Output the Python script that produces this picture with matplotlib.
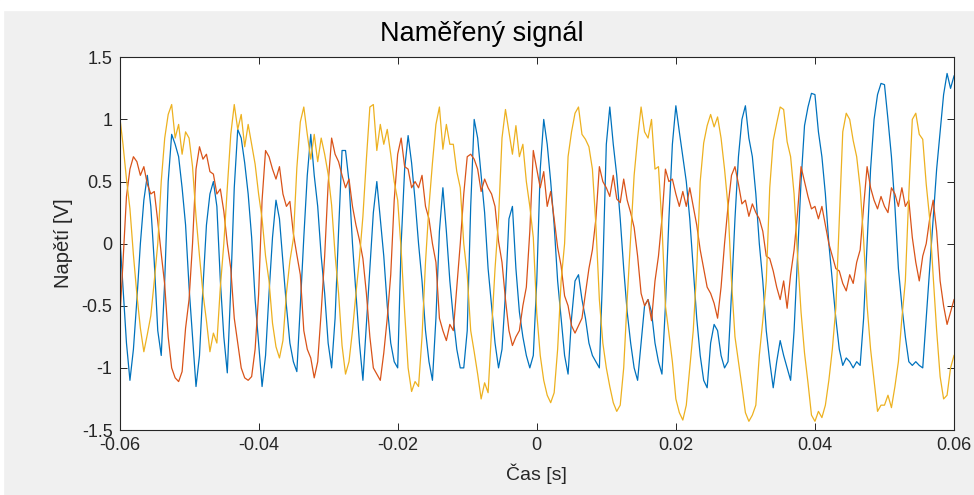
import matplotlib.pyplot as plt
import numpy as np

# casova osa mereni (vzorkovani 0.5 ms)
t_ms = np.arange(-60, 60.5, 0.5)

# kanal 1 (modra)
u1 = [0.10, -0.35, -0.80, -1.10, -0.85, -0.45, 0.00, 0.35, 0.55, 0.30, -0.15, -0.70, -0.90, -0.30, 0.50, 0.88, 0.80, 0.70, 0.45, 0.15,
      -0.35, -0.75, -1.15, -0.90, -0.35, 0.15, 0.40, 0.50, 0.30, -0.30, -0.75, -1.04, -0.35, 0.45, 0.92, 0.85, 0.65, 0.40, 0.05, -0.45,
      -0.80, -1.15, -0.90, -0.40, 0.05, 0.35, 0.20, -0.15, -0.50, -0.80, -0.95, -1.03, -0.50, 0.05, 0.55, 0.88, 0.55, 0.30, -0.10, -0.40,
      -0.80, -1.00, -0.60, 0.10, 0.75, 0.75, 0.50, 0.00, -0.40, -0.80, -1.10, -0.65, -0.20, 0.25, 0.50, 0.20, -0.10, -0.50, -0.80, -0.95,
      -1.00, 0.00, 0.60, 0.87, 0.65, 0.35, 0.00, -0.30, -0.70, -0.95, -1.10, -0.60, 0.10, 0.45, 0.10, -0.30, -0.60, -0.85, -1.00, -1.00,
      -0.70, 0.30, 1.00, 0.85, 0.55, 0.25, -0.20, -0.50, -0.80, -1.00, -0.85, -0.40, 0.20, 0.30, -0.20, -0.55, -0.75, -0.90, -1.00, -0.90,
      -0.30, 0.60, 1.00, 0.80, 0.50, 0.15, -0.30, -0.60, -0.90, -1.05, -0.60, -0.30, -0.25, -0.45, -0.60, -0.80, -0.90, -0.95, -1.00, -0.20,
      0.80, 1.10, 0.80, 0.55, 0.20, -0.20, -0.55, -0.80, -1.00, -1.10, -0.80, -0.50, -0.45, -0.55, -0.80, -0.95, -1.05, -0.50, 0.20, 0.80,
      1.11, 0.90, 0.70, 0.50, 0.20, -0.20, -0.60, -0.90, -1.10, -1.16, -0.80, -0.65, -0.70, -0.90, -1.00, -0.95, -0.40, 0.20, 0.70, 1.00,
      1.11, 0.85, 0.70, 0.40, 0.00, -0.30, -0.70, -0.95, -1.16, -0.95, -0.78, -0.90, -1.00, -1.10, -0.70, -0.10, 0.50, 0.95, 1.10, 1.21,
      1.20, 0.90, 0.70, 0.40, 0.00, -0.30, -0.60, -0.85, -0.98, -0.92, -0.95, -1.00, -0.95, -0.98, -0.60, 0.00, 0.60, 1.00, 1.20, 1.29,
      1.28, 1.00, 0.70, 0.30, -0.20, -0.50, -0.75, -0.95, -0.98, -0.95, -0.98, -1.00, -0.60, -0.20, 0.20, 0.60, 0.90, 1.20, 1.37, 1.25,
      1.35]

# kanal 2 (oranzova)
u2 = [-0.65, -0.15, 0.38, 0.60, 0.70, 0.66, 0.55, 0.62, 0.48, 0.40, 0.42, 0.18, -0.08, -0.33, -0.75, -1.00, -1.08, -1.11, -1.03, -0.68,
      -0.45, 0.00, 0.60, 0.78, 0.68, 0.72, 0.58, 0.56, 0.40, 0.44, 0.26, 0.00, -0.20, -0.60, -0.80, -1.00, -1.08, -1.10, -1.07, -0.85,
      -0.41, 0.35, 0.75, 0.70, 0.60, 0.52, 0.62, 0.40, 0.30, 0.34, 0.08, -0.09, -0.25, -0.70, -0.85, -0.92, -1.08, -0.95, -0.55, -0.10,
      0.48, 0.85, 0.72, 0.66, 0.55, 0.45, 0.52, 0.30, 0.15, 0.03, -0.12, -0.40, -0.75, -1.00, -1.05, -1.10, -0.88, -0.60, -0.25, 0.35,
      0.72, 0.85, 0.62, 0.60, 0.45, 0.50, 0.45, 0.55, 0.30, 0.20, 0.00, -0.15, -0.60, -0.70, -0.78, -0.65, -0.70, -0.35, 0.00, 0.40,
      0.70, 0.72, 0.68, 0.60, 0.42, 0.52, 0.45, 0.40, 0.30, 0.02, -0.15, -0.45, -0.70, -0.82, -0.75, -0.70, -0.50, -0.35, 0.10, 0.75,
      0.60, 0.45, 0.58, 0.30, 0.42, 0.20, -0.03, -0.18, -0.42, -0.50, -0.66, -0.72, -0.66, -0.60, -0.40, -0.20, -0.05, 0.20, 0.62, 0.50,
      0.45, 0.38, 0.55, 0.36, 0.33, 0.52, 0.35, 0.25, 0.13, -0.10, -0.40, -0.50, -0.45, -0.62, -0.30, -0.10, 0.20, 0.60, 0.50, 0.52,
      0.40, 0.30, 0.42, 0.30, 0.45, 0.30, 0.15, -0.05, -0.20, -0.35, -0.40, -0.48, -0.60, -0.35, 0.00, 0.30, 0.55, 0.62, 0.48, 0.32,
      0.35, 0.22, 0.32, 0.25, 0.20, 0.10, -0.10, -0.12, -0.22, -0.35, -0.45, -0.30, -0.52, -0.25, -0.05, 0.25, 0.62, 0.50, 0.38, 0.28,
      0.30, 0.20, 0.30, 0.15, 0.00, -0.10, -0.20, -0.22, -0.32, -0.38, -0.25, -0.32, -0.15, -0.05, 0.30, 0.62, 0.45, 0.35, 0.28, 0.38,
      0.30, 0.25, 0.45, 0.40, 0.30, 0.45, 0.30, 0.35, 0.05, -0.15, -0.30, -0.10, 0.00, 0.20, 0.35, 0.10, -0.30, -0.50, -0.65, -0.55,
      -0.45]

# kanal 3 (zluta)
u3 = [1.04, 0.80, 0.52, 0.28, -0.09, -0.41, -0.68, -0.87, -0.73, -0.58, -0.30, 0.00, 0.50, 0.85, 1.04, 1.12, 0.85, 0.96, 0.72, 0.90,
      0.85, 0.62, 0.22, -0.10, -0.40, -0.62, -0.87, -0.72, -0.80, -0.35, 0.00, 0.45, 0.88, 1.12, 0.92, 1.04, 0.78, 0.96, 0.80, 0.64,
      0.40, 0.20, -0.10, -0.30, -0.64, -0.83, -0.92, -0.78, -0.40, -0.14, 0.04, 0.61, 0.98, 1.10, 0.88, 0.68, 0.88, 0.66, 0.85, 0.72,
      0.56, 0.31, -0.09, -0.40, -0.82, -1.05, -0.95, -0.70, -0.40, -0.12, 0.22, 0.68, 1.10, 1.12, 0.75, 0.96, 0.80, 0.92, 0.72, 0.50,
      0.35, -0.05, -0.55, -1.00, -1.19, -1.11, -1.15, -0.75, -0.15, 0.30, 0.65, 0.96, 1.10, 0.76, 0.96, 0.80, 0.80, 0.58, 0.45, 0.00,
      -0.25, -0.70, -0.87, -1.05, -1.25, -1.12, -1.20, -0.70, -0.20, 0.20, 0.85, 1.08, 0.90, 0.72, 0.95, 0.70, 0.80, 0.50, 0.30, 0.05,
      -0.56, -0.90, -1.10, -1.22, -1.28, -1.20, -0.85, -0.30, 0.00, 0.70, 0.90, 1.05, 1.10, 0.88, 0.84, 0.78, 0.60, 0.15, -0.45, -0.80,
      -1.00, -1.15, -1.28, -1.35, -1.30, -1.00, -0.45, 0.05, 0.55, 0.85, 1.10, 0.90, 0.85, 1.00, 0.60, 0.62, 0.15, -0.50, -0.72, -0.95,
      -1.25, -1.36, -1.42, -1.30, -1.00, -0.70, -0.21, 0.50, 0.81, 0.95, 1.04, 0.94, 1.02, 0.85, 0.60, 0.30, -0.30, -0.75, -0.95, -1.15,
      -1.36, -1.43, -1.38, -1.30, -0.90, -0.62, -0.30, 0.45, 0.83, 0.97, 1.10, 1.08, 0.82, 0.70, 0.40, -0.10, -0.55, -0.88, -1.12, -1.38,
      -1.43, -1.35, -1.40, -1.30, -1.10, -0.85, -0.52, 0.20, 0.90, 1.05, 1.00, 0.83, 0.70, 0.45, 0.03, -0.50, -0.85, -1.10, -1.35, -1.30,
      -1.30, -1.22, -1.32, -1.15, -0.95, -0.60, -0.30, 0.40, 1.00, 1.05, 0.88, 0.84, 0.48, 0.20, -0.26, -0.70, -1.07, -1.25, -1.22, -1.00,
      -0.90]

x_ticks = [-0.06, -0.04, -0.02, 0, 0.02, 0.04, 0.06]
x_ticklabels = ['-0.06', '-0.04', '-0.02', '0', '0.02', '0.04', '0.06']
y_ticks = [-1.5, -1, -0.5, 0, 0.5, 1, 1.5]
y_ticklabels = ['-1.5', '-1', '-0.5', '0', '0.5', '1', '1.5']

plt.rcParams['font.family'] = ['Liberation Sans', 'DejaVu Sans']

t = t_ms / 1000.0

fig = plt.figure(figsize=(9.74, 4.95), dpi=100, facecolor='#f0f0f0')
# bily okraj nahore a vlevo (vyrez ze screenshotu)
fig.patches.append(plt.Rectangle((0, 0.98), 1, 0.02, transform=fig.transFigure,
                                 color='white', zorder=0))
fig.patches.append(plt.Rectangle((0, 0), 0.003, 1, transform=fig.transFigure,
                                 color='white', zorder=0))

ax = fig.add_axes([0.1227, 0.1313, 0.8568, 0.7529])
ax.plot(t, u1, color='#0072BD', linewidth=0.9)
ax.plot(t, u2, color='#D95319', linewidth=0.9)
ax.plot(t, u3, color='#EDB120', linewidth=0.9)

ax.set_xlim(-0.06, 0.06)
ax.set_ylim(-1.5, 1.5)
ax.set_xticks(x_ticks)
ax.set_xticklabels(x_ticklabels)
ax.set_yticks(y_ticks)
ax.set_yticklabels(y_ticklabels)
ax.tick_params(direction='in', length=5, width=0.7, colors='#262626',
               labelsize=13, top=True, right=True, pad=5)
for s in ax.spines.values():
    s.set_color('#262626')
    s.set_linewidth(0.8)

ax.set_title('Naměřený signál', fontsize=19.5, color='black', pad=12, x=0.434)
ax.set_xlabel('Čas [s]', fontsize=14, color='#262626', labelpad=7)
ax.set_ylabel('Napětí [V]', fontsize=14.5, color='#262626', labelpad=6)

fig.savefig('out.png', dpi=100, facecolor=fig.get_facecolor())
